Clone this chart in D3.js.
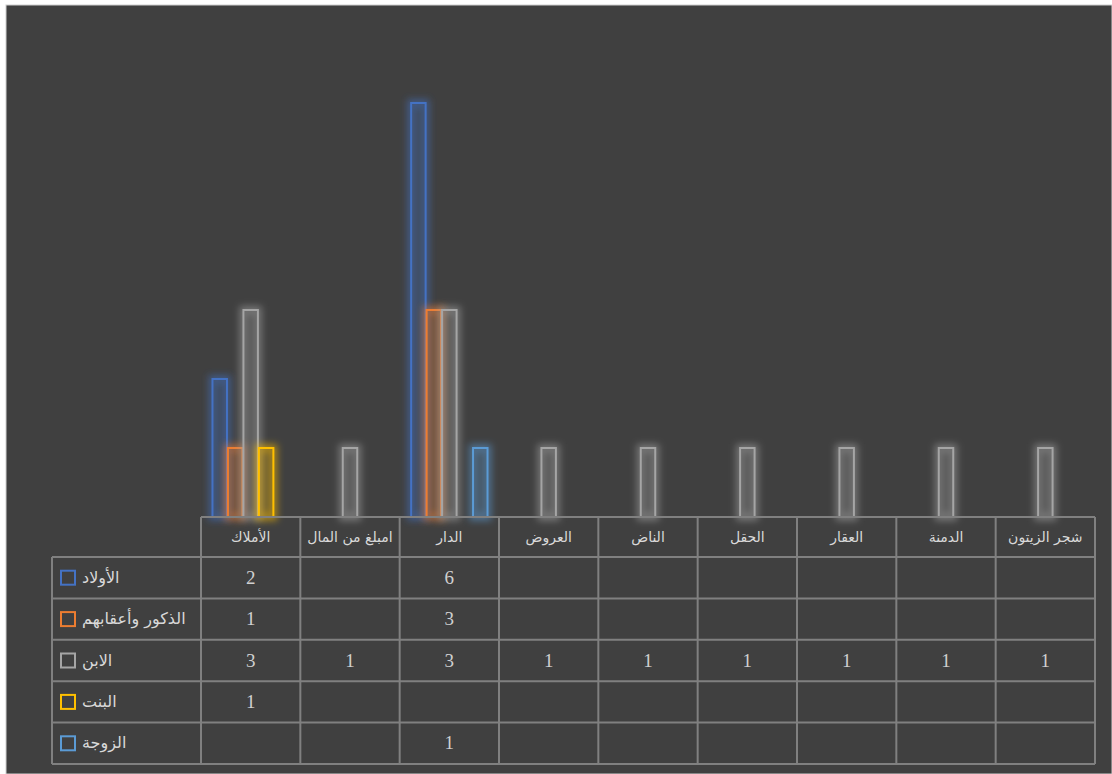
<!DOCTYPE html>
<html>
<head>
<meta charset="utf-8">
<script src="https://cdn.jsdelivr.net/npm/d3@7"></script>
<style>
  html, body { margin: 0; padding: 0; background: #ffffff; }
  svg { display: block; }
</style>
</head>
<body>
<svg id="chart" width="1112" height="774"></svg>
<script>
// Categories (left to right) and series
const categories = ["الأملاك", "امبلغ من المال", "الدار", "العروض", "الناض", "الحقل", "العقار", "الدمنة", "شجر الزيتون"];
const seriesNames = ["الأولاد", "الذكور وأعقابهم", "الابن", "البنت", "الزوجة"];
const seriesColors = ["#4472C4", "#ED7D31", "#A5A5A5", "#FFC000", "#5B9BD5"];

// Values per series, aligned with categories (null = empty cell)
const awlad   = [2, null, 6, null, null, null, null, null, null];
const dhukur  = [1, null, 3, null, null, null, null, null, null];
const ibn     = [3, 1, 3, 1, 1, 1, 1, 1, 1];
const bint    = [1, null, null, null, null, null, null, null, null];
const zawja   = [null, null, 1, null, null, null, null, null, null];
const seriesValues = [awlad, dhukur, ibn, bint, zawja];

const yMax = 7;

const svg = d3.select("#chart");
const W = 1112, H = 774;

// Chart background
svg.append("rect").attr("x", 6).attr("y", 5).attr("width", W - 6).attr("height", H - 5)
  .attr("fill", "#404040").attr("stroke", "#d0d0d0").attr("stroke-width", 1);

// Glow filter for bars
const defs = svg.append("defs");
const f = defs.append("filter").attr("id", "glow")
  .attr("x", "-80%").attr("y", "-30%").attr("width", "260%").attr("height", "160%");
f.append("feGaussianBlur").attr("stdDeviation", 3.5);

// Layout
const tableLeft = 201, tableRight = 1095, legendLeft = 52;
const baseY = 517, plotTop = 34;
const headerBottom = 557, tableBottom = 764;

const x = d3.scaleBand().domain(categories).range([tableLeft, tableRight]).paddingInner(0).paddingOuter(0);
const y = d3.scaleLinear().domain([0, yMax]).range([baseY, plotTop]);
const barW = x.bandwidth() / (seriesNames.length + 1.42);
const gap = x.bandwidth() - barW * seriesNames.length;
const xs = d3.scaleBand().domain(d3.range(seriesNames.length))
  .range([gap / 2, x.bandwidth() - gap / 2]).padding(0);

// Bars
const barsG = svg.append("g");
seriesValues.forEach((vals, si) => {
  const data = categories.map((c, ci) => ({ c, v: vals[ci] })).filter(d => d.v != null);
  const g = barsG.append("g");
  const bx = d => x(d.c) + xs(si) + 0.5;
  const bw = xs.bandwidth() - 1;
  // soft glow
  g.selectAll("rect.glow").data(data).join("rect")
    .attr("class", "glow")
    .attr("x", bx).attr("width", bw)
    .attr("y", d => y(d.v)).attr("height", d => baseY - y(d.v))
    .attr("fill", seriesColors[si]).attr("fill-opacity", 0.16)
    .attr("stroke", seriesColors[si]).attr("stroke-opacity", 0.5).attr("stroke-width", 8)
    .attr("filter", "url(#glow)");
  // outline
  g.selectAll("rect.bar").data(data).join("rect")
    .attr("class", "bar")
    .attr("x", bx).attr("width", bw)
    .attr("y", d => y(d.v)).attr("height", d => baseY - y(d.v))
    .attr("fill", "none")
    .attr("stroke", seriesColors[si]).attr("stroke-width", 2);
});

// Data table
const rowH = (tableBottom - headerBottom) / seriesNames.length;
const grid = svg.append("g").attr("stroke", "#808080").attr("stroke-width", 2).attr("fill", "none");

// horizontal lines
grid.append("line").attr("x1", tableLeft).attr("x2", tableRight).attr("y1", baseY).attr("y2", baseY);
d3.range(seriesNames.length + 1).forEach(i => {
  const yy = headerBottom + i * rowH;
  grid.append("line").attr("x1", legendLeft).attr("x2", tableRight).attr("y1", yy).attr("y2", yy);
});
// vertical lines
grid.append("line").attr("x1", legendLeft).attr("x2", legendLeft).attr("y1", headerBottom).attr("y2", tableBottom);
categories.forEach(c => {
  const xx = x(c);
  grid.append("line").attr("x1", xx).attr("x2", xx).attr("y1", baseY).attr("y2", tableBottom);
});
grid.append("line").attr("x1", tableRight).attr("x2", tableRight).attr("y1", baseY).attr("y2", tableBottom);

// category headers
svg.append("g").selectAll("text").data(categories).join("text")
  .attr("x", d => x(d) + x.bandwidth() / 2)
  .attr("y", (baseY + headerBottom) / 2 + 5)
  .attr("text-anchor", "middle")
  .attr("font-family", "DejaVu Sans, Noto Sans, sans-serif")
  .attr("font-size", 14)
  .attr("fill", "#d9d9d9")
  .text(d => d);

// legend keys and names
const leg = svg.append("g");
seriesNames.forEach((name, si) => {
  const cy = headerBottom + si * rowH + rowH / 2;
  leg.append("rect").attr("x", 61).attr("y", cy - 7).attr("width", 14).attr("height", 14)
    .attr("fill", "none").attr("stroke", seriesColors[si]).attr("stroke-width", 2);
  leg.append("text").attr("x", 82).attr("y", cy + 5)
    .attr("text-anchor", "start").attr("direction", "ltr")
    .attr("font-family", "DejaVu Sans, Noto Sans, sans-serif")
    .attr("font-size", 16).attr("fill", "#d9d9d9")
    .text(name);
});

// cell values
const cells = svg.append("g");
seriesValues.forEach((vals, si) => {
  const cy = headerBottom + si * rowH + rowH / 2;
  categories.forEach((c, ci) => {
    if (vals[ci] == null) return;
    cells.append("text")
      .attr("x", x(c) + x.bandwidth() / 2)
      .attr("y", cy + 6)
      .attr("text-anchor", "middle")
      .attr("font-family", "Liberation Serif, DejaVu Serif, serif")
      .attr("font-size", 19)
      .attr("fill", "#d0d0d0")
      .text(vals[ci]);
  });
});
</script>
</body>
</html>
